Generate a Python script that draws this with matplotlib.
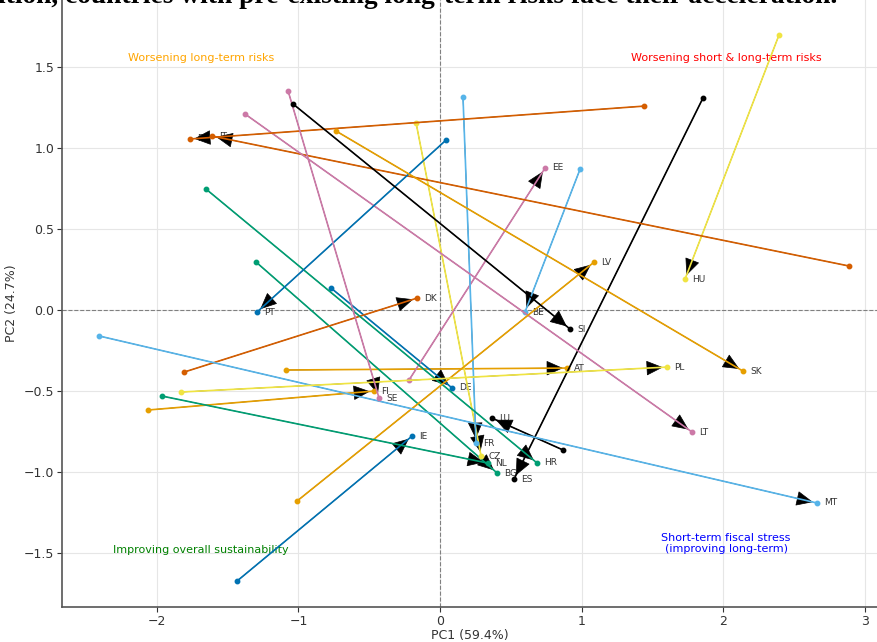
import matplotlib.pyplot as plt

# country codes, start (earlier period) and end (later period) positions in PC space
paises = ['AT', 'BE', 'BG', 'CZ', 'DE', 'DK', 'EE', 'ES', 'FI', 'FR', 'HR', 'HU', 'IE',
          'IT', 'LT', 'LU', 'LV', 'MT', 'NL', 'PL', 'PT', 'RO', 'SE', 'SI', 'SK']
pc1_inicio = [-1.088, 0.989, -1.299, -0.169, -0.770, -1.808, -0.219, 1.857, -2.062, 0.162,
              -1.653, 2.394, -1.434, 2.888, -1.377, 0.869, -1.010, -2.408, -1.963, -1.829,
              0.042, 1.441, -1.073, -1.038, -0.734]
pc2_inicio = [-0.370, 0.870, 0.296, 1.154, 0.136, -0.383, -0.432, 1.309, -0.617, 1.315,
              0.747, 1.698, -1.673, 0.272, 1.210, -0.864, -1.179, -0.160, -0.531, -0.506,
              1.049, 1.259, 1.352, 1.272, 1.105]
pc1_fim = [0.897, 0.600, 0.403, 0.290, 0.085, -0.162, 0.742, 0.523, -0.466, 0.254,
           0.685, 1.730, -0.198, -1.610, 1.780, 0.367, 1.088, 2.662, 0.339, 1.603,
           -1.292, -1.766, -0.431, 0.918, 2.140]
pc2_fim = [-0.358, -0.012, -1.006, -0.901, -0.481, 0.074, 0.877, -1.043, -0.500, -0.821,
           -0.944, 0.191, -0.778, 1.074, -0.753, -0.667, 0.296, -1.191, -0.945, -0.352,
           -0.012, 1.056, -0.543, -0.117, -0.377]

cores = ['#E69F00', '#56B4E9', '#009E73', '#F0E442', '#0072B2', '#D55E00', '#CC79A7', '#000000']

fig = plt.figure(figsize=(8.77, 6.42), dpi=100)
ax = fig.add_axes([62 / 877, 35 / 642, 1 - 62 / 877, 1 - 35 / 642])

for i, c in enumerate(paises):
    cor = cores[i % len(cores)]
    x0, y0, x1, y1 = pc1_inicio[i], pc2_inicio[i], pc1_fim[i], pc2_fim[i]
    # rótulo um pouco à direita do ponto final
    ax.annotate(c, xy=(x1, y1), xytext=(5, 0), textcoords='offset points',
                fontsize=6.5, color='#333333', va='center', ha='left', zorder=2)
    ax.annotate('', xy=(x1, y1), xytext=(x0, y0),
                arrowprops=dict(arrowstyle='-|>,head_length=0.6,head_width=0.27',
                                color='black', lw=0.5, mutation_scale=18, shrinkA=0, shrinkB=3),
                zorder=3)
    ax.plot([x0, x1], [y0, y1], color=cor, lw=1.2, marker='o', markersize=3.2, zorder=4)

ax.axhline(0, color='grey', lw=0.8, linestyle='--', zorder=1)
ax.axvline(0, color='grey', lw=0.8, linestyle='--', zorder=1)
ax.grid(True, color='#e6e6e6', lw=0.8, zorder=0)
ax.set_axisbelow(True)

ax.text(-1.69, 1.556, 'Worsening long-term risks', color='orange', fontsize=8, ha='center', va='center')
ax.text(2.02, 1.556, 'Worsening short & long-term risks', color='red', fontsize=8, ha='center', va='center')
ax.text(-1.69, -1.48, 'Improving overall sustainability', color='green', fontsize=8, ha='center', va='center')
ax.text(2.02, -1.44, 'Short-term fiscal stress\n(improving long-term)', color='blue', fontsize=8,
        ha='center', va='center')

ax.set_xlim(-2.67, 3.086)
ax.set_ylim(-1.833, 1.914)
ax.set_xticks([-2, -1, 0, 1, 2, 3])
ax.set_yticks([-1.5, -1.0, -0.5, 0.0, 0.5, 1.0, 1.5])
ax.tick_params(labelsize=9, colors='#333333', length=3.5, pad=2)
ax.spines['top'].set_visible(False)
ax.spines['right'].set_visible(False)
for s in ['left', 'bottom']:
    ax.spines[s].set_color('#555555')
    ax.spines[s].set_linewidth(1.2)

ax.set_xlabel('PC1 (59.4%)', fontsize=9, color='#333333', labelpad=1)
ax.set_ylabel('PC2 (24.7%)', fontsize=9, color='#333333', labelpad=4)

# linha de texto do documento cortada no topo
fig.text(-0.002, 1 - 3 / 642, 'ition, countries with pre-existing long-term risks face their acceleration.',
         fontsize=19.8, family='Liberation Serif', weight='bold', ha='left', va='baseline')

fig.savefig('out.png', dpi=100)
